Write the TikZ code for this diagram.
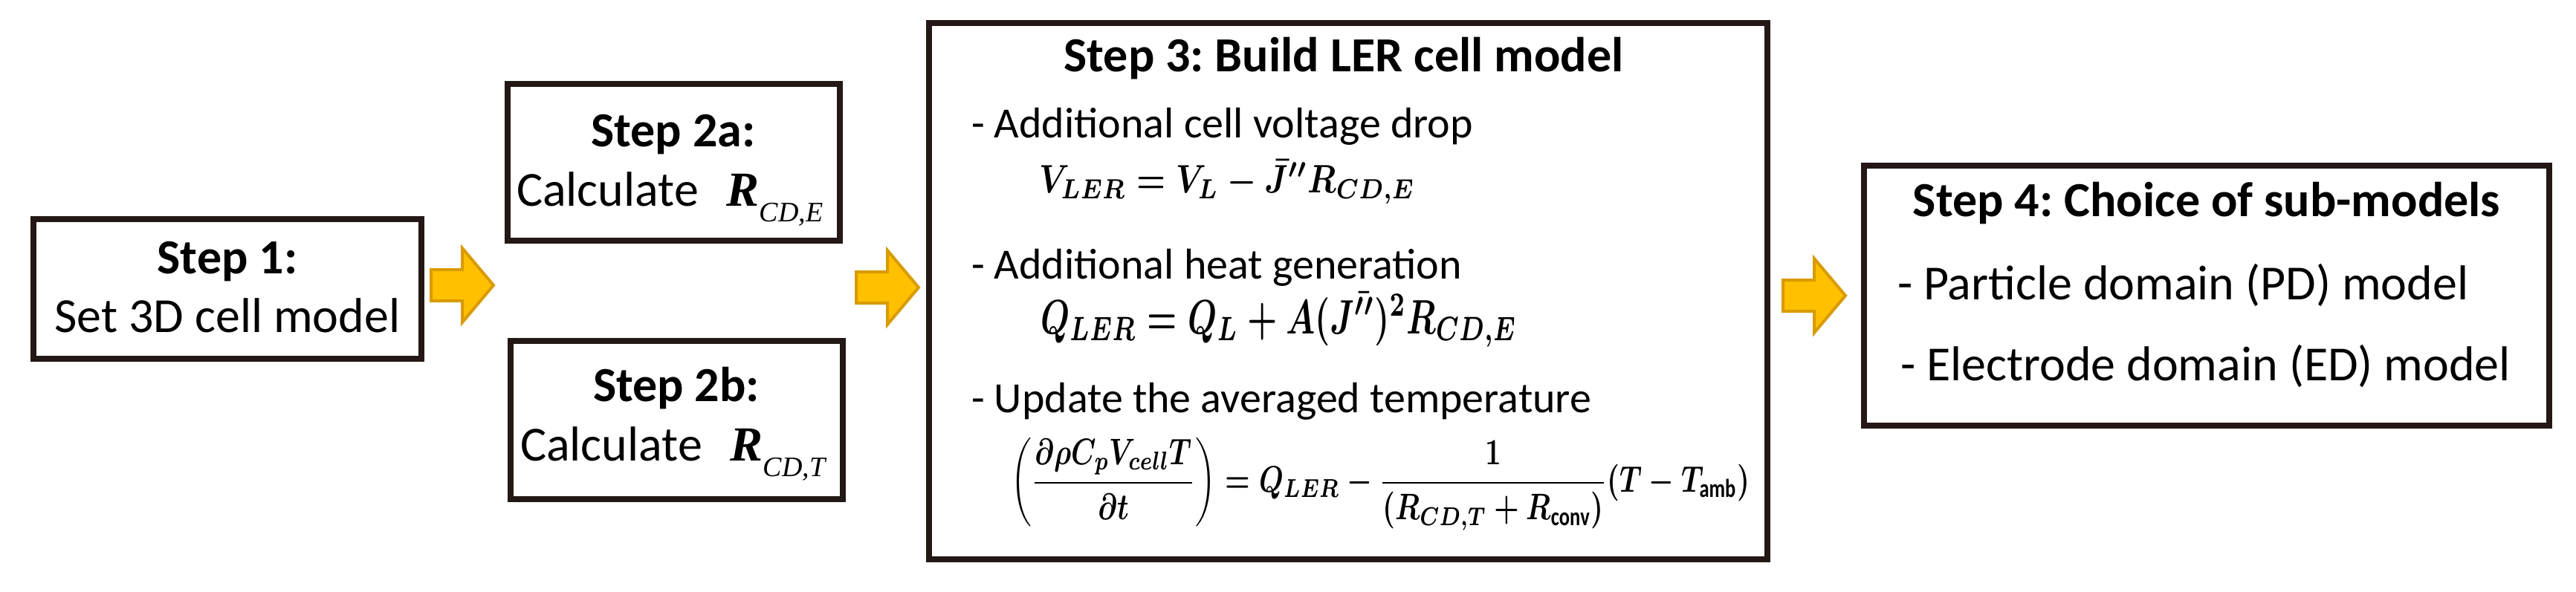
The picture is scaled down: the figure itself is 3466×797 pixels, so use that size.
\documentclass[tikz,border=0pt]{standalone}
\usepackage{fontspec}
\setmainfont{Carlito}
\newfontfamily\tnr{Liberation Serif}
\usepackage{amsmath}
\usepackage{graphicx}
\definecolor{boxline}{HTML}{231815}
\definecolor{arrfill}{HTML}{FFC000}
\definecolor{arrline}{HTML}{D89B00}
\newcommand{\Rsym}[1]{{\tnr\bfseries\itshape R}\raisebox{-21pt}{\fontsize{38}{38}\selectfont\tnr\itshape #1}}
\frenchspacing
\begin{document}
\begin{tikzpicture}[x=1pt,y=-1pt,
  stepbox/.style={draw=boxline, line width=8pt, fill=white, rectangle, inner sep=0pt, outer sep=0pt},
  txt/.style={inner sep=0pt, outer sep=0pt, font=\fontsize{66}{79}\selectfont},
  ttl/.style={inner sep=0pt, outer sep=0pt, font=\fontsize{66}{79}\selectfont\bfseries},
  body/.style={inner sep=0pt, outer sep=0pt, font=\fontsize{58}{70}\selectfont},
  eq/.style={inner sep=0pt, outer sep=0pt},
  blockarrow/.pic={\draw[fill=arrfill, draw=arrline, line width=4pt, line join=miter]
     (0,-21) -- (42,-21) -- (42,-50) -- (84,0) -- (42,50) -- (42,21) -- (0,21) -- cycle;}
]
\useasboundingbox (0,0) rectangle (3466,797);
\fill[white] (0,0) rectangle (3466,797);

% boxes
\node[stepbox, minimum width=522pt, minimum height=188pt] (s1) at (306,389) {};
\node[stepbox, minimum width=447pt, minimum height=211pt] (s2a) at (906.5,218.5) {};
\node[stepbox, minimum width=447pt, minimum height=213pt] (s2b) at (910.5,565.5) {};
\node[stepbox, minimum width=1128pt, minimum height=722pt] (s3) at (1814,392) {};
\node[stepbox, minimum width=922pt, minimum height=350pt] (s4) at (2969,398) {};

% block arrows
\pic at (580,384) {blockarrow};
\pic at (1152,387) {blockarrow};
\pic at (2399,398) {blockarrow};

% Step 1
\node[ttl, anchor=base] (t1a) at (306,368) {Step 1:};
\node[txt, anchor=base] (t1b) at (306,447) {Set 3D cell model};

% Step 2a
\node[ttl, anchor=base] (t2a) at (906,197) {Step 2a:};
\node[txt, anchor=base west] (t2ab) at (695,277) {Calculate\hspace{38pt}\Rsym{CD,E}};

% Step 2b
\node[ttl, anchor=base] (t2b) at (910,540) {Step 2b:};
\node[txt, anchor=base west] (t2bb) at (700,620) {Calculate\hspace{38pt}\Rsym{CD,T}};

% Step 3
\node[ttl, anchor=base] (t3) at (1808,97) {Step 3: Build LER cell model};
\node[body, anchor=base west] (t3a) at (1307,185) {- Additional cell voltage drop};
\node[eq, anchor=base west] (e1) at (1398,259) {\resizebox*{506pt}{60pt}{\boldmath$V_{LER} = V_L - \bar{J}''R_{CD,E}$}};
\node[body, anchor=base west] (t3b) at (1307,375) {- Additional heat generation};
\node[eq, anchor=base west] (e2) at (1400,449) {\resizebox*{641pt}{75pt}{\boldmath$Q_{LER} = Q_L + A(J^{\bar{\prime\prime}})^2 R_{CD,E}$}};
\node[body, anchor=base west] (t3c) at (1307,555) {- Update the averaged temperature};
\node[eq, anchor=north west] (e3) at (1360,590) {\resizebox*{994pt}{124pt}{\boldmath$\displaystyle \left(\frac{\partial \rho C_p V_{cell} T}{\partial t}\right) = Q_{LER} - \frac{1}{(R_{CD,T} + R_{\mathrm{conv}})}(T - T_{\mathrm{amb}})$}};

% Step 4
\node[ttl, anchor=base] (t4) at (2969,291) {Step 4: Choice of sub-models};
\node[txt, anchor=base west] (t4a) at (2553,403) {- Particle domain (PD) model};
\node[txt, anchor=base west] (t4b) at (2557,512) {- Electrode domain (ED) model};
\end{tikzpicture}
\end{document}
